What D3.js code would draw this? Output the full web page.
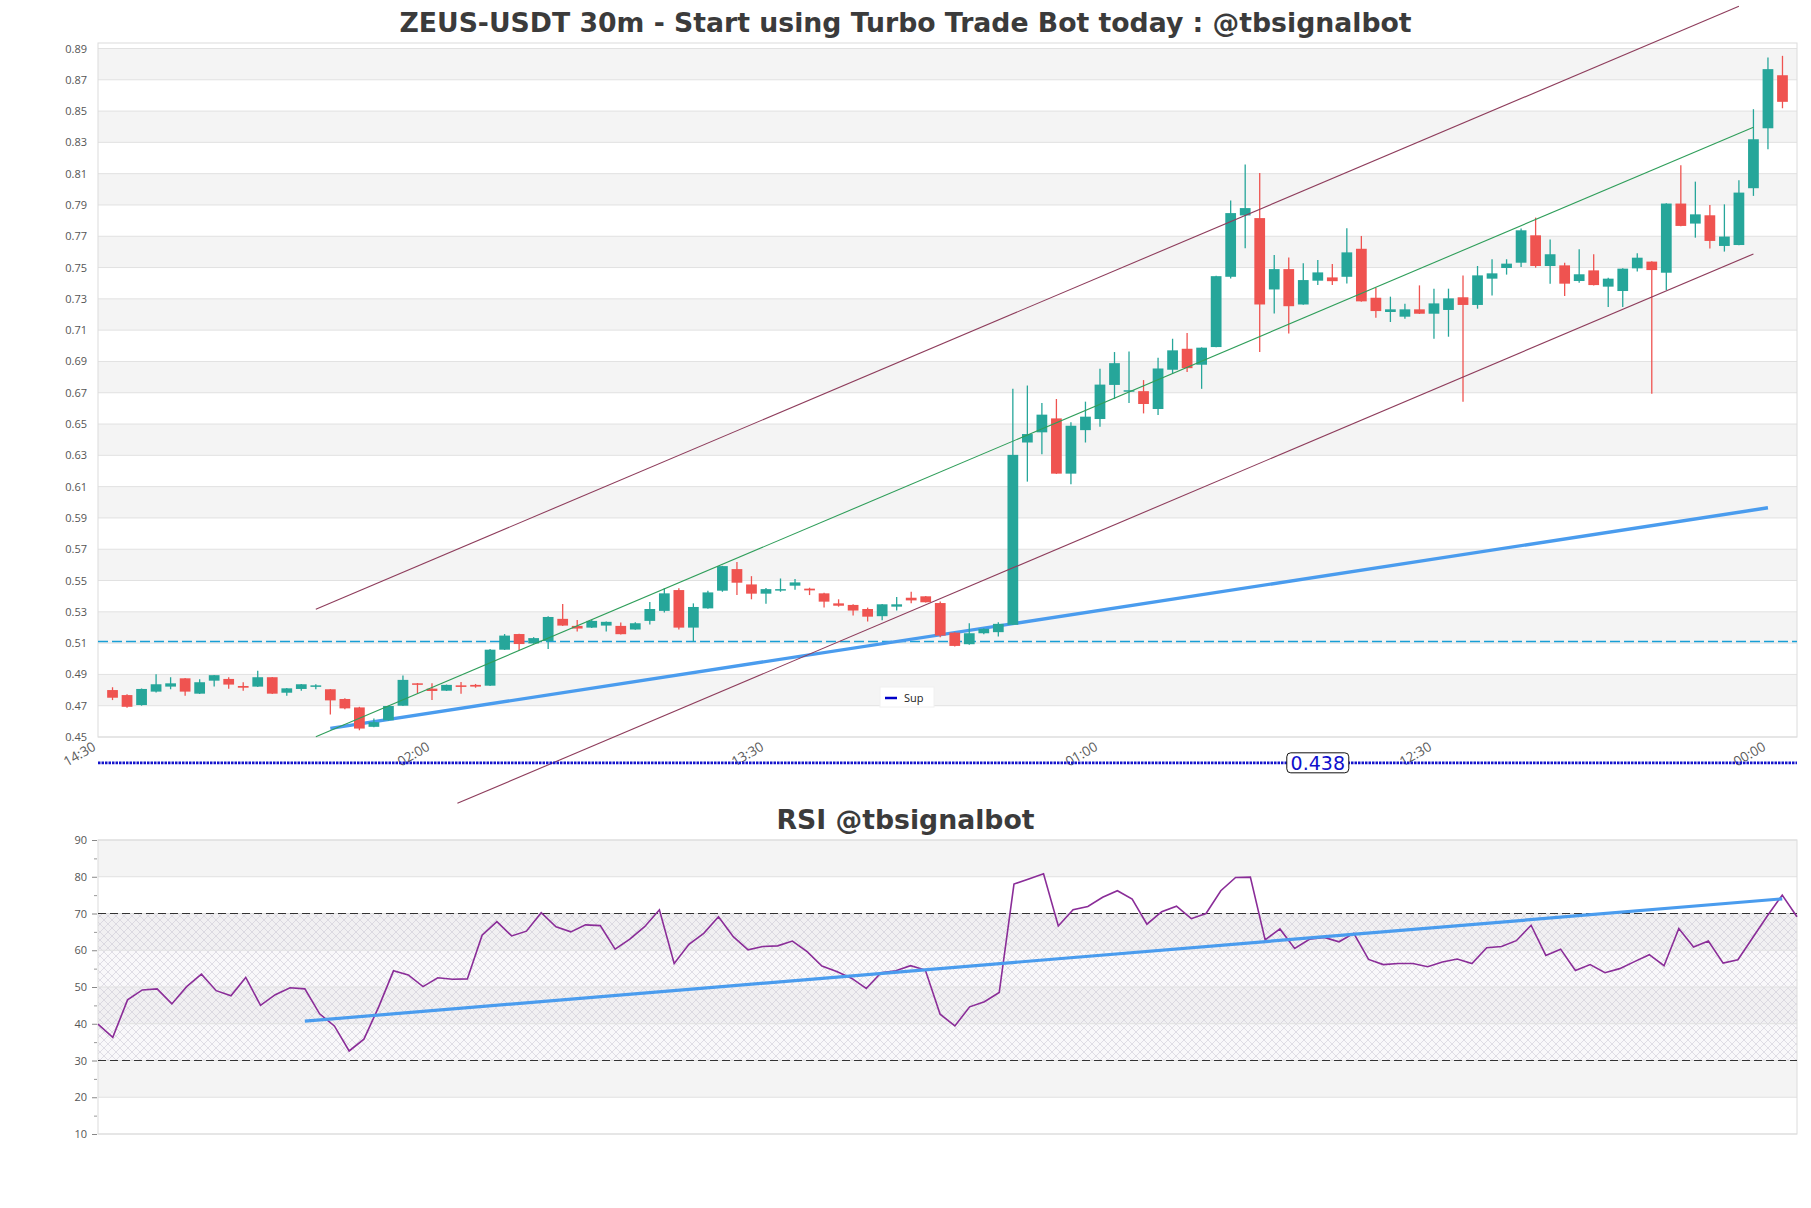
<!DOCTYPE html>
<html>
<head>
<meta charset="utf-8">
<script src="https://cdn.jsdelivr.net/npm/d3@7"></script>
<style>
  body { margin: 0; background: #fff; }
</style>
</head>
<body>
<svg id="chart" width="1811" height="1208" font-family="'Open Sans', sans-serif"></svg>
<script>
// ---- data ----
// one candle per 30 minutes, bar 1 = 15:00 ... bar 116 = 00:30
const opens = [0.4800,0.4768,0.4704,0.4790,0.4822,0.4875,0.4777,0.4860,0.4871,0.4826,0.4822,0.4882,0.4783,0.4807,0.4827,0.4805,0.4743,0.4689,0.4565,0.4607,
  0.4700,0.4843,0.4809,0.4796,0.4830,0.4833,0.4828,0.5058,0.5158,0.5098,0.5113,0.5255,0.5210,0.5199,0.5212,0.5210,0.5187,0.5242,0.5306,0.5439,
  0.5199,0.5322,0.5435,0.5573,0.5475,0.5416,0.5441,0.5467,0.5448,0.5418,0.5354,0.5344,0.5318,0.5272,0.5333,0.5390,0.5399,0.5356,0.5167,0.5093,
  0.5163,0.5170,0.5217,0.6382,0.6447,0.6536,0.6183,0.6461,0.6532,0.6750,0.6709,0.6710,0.6596,0.6847,0.6981,0.6879,0.6992,0.7441,0.7833,0.7816,
  0.7360,0.7490,0.7264,0.7416,0.7437,0.7441,0.7620,0.7307,0.7216,0.7186,0.7233,0.7205,0.7229,0.7310,0.7261,0.7429,0.7497,0.7531,0.7706,0.7510,
  0.7514,0.7414,0.7482,0.7378,0.7350,0.7495,0.7538,0.7467,0.7909,0.7781,0.7834,0.7638,0.7644,0.8007,0.8390,0.8729];
const highs = [0.4818,0.4773,0.4810,0.4901,0.4882,0.4877,0.4869,0.4897,0.4882,0.4850,0.4923,0.4884,0.4813,0.4839,0.4837,0.4807,0.4747,0.4693,0.4618,0.4700,
  0.4893,0.4845,0.4843,0.4835,0.4852,0.4839,0.5062,0.5158,0.5160,0.5138,0.5272,0.5350,0.5248,0.5250,0.5238,0.5231,0.5233,0.5363,0.5450,0.5450,
  0.5354,0.5435,0.5594,0.5619,0.5528,0.5452,0.5513,0.5509,0.5454,0.5422,0.5380,0.5348,0.5327,0.5350,0.5395,0.5428,0.5401,0.5366,0.5169,0.5227,
  0.5195,0.5234,0.6725,0.6746,0.6635,0.6660,0.6511,0.6643,0.6853,0.6960,0.6964,0.6781,0.6924,0.7045,0.7082,0.6990,0.7447,0.7929,0.8158,0.8104,
  0.7580,0.7565,0.7527,0.7548,0.7522,0.7751,0.7702,0.7371,0.7314,0.7269,0.7386,0.7365,0.7365,0.7450,0.7510,0.7553,0.7553,0.7749,0.7819,0.7680,
  0.7531,0.7617,0.7585,0.7435,0.7495,0.7591,0.7540,0.7911,0.8154,0.8049,0.7900,0.7904,0.8058,0.8512,0.8842,0.8853];
const lows = [0.4736,0.4687,0.4700,0.4785,0.4805,0.4764,0.4775,0.4822,0.4809,0.4796,0.4820,0.4775,0.4764,0.4796,0.4805,0.4644,0.4678,0.4543,0.4563,0.4605,
  0.4698,0.4779,0.4736,0.4794,0.4777,0.4815,0.4826,0.5056,0.5053,0.5096,0.5062,0.5210,0.5174,0.5197,0.5174,0.5155,0.5185,0.5219,0.5295,0.5187,
  0.5110,0.5320,0.5428,0.5407,0.5380,0.5352,0.5428,0.5441,0.5407,0.5327,0.5333,0.5276,0.5238,0.5246,0.5308,0.5354,0.5359,0.5138,0.5078,0.5090,
  0.5157,0.5142,0.5215,0.6132,0.6307,0.6181,0.6115,0.6382,0.6483,0.6660,0.6635,0.6568,0.6558,0.6821,0.6832,0.6725,0.6990,0.7430,0.7623,0.6960,
  0.7206,0.7078,0.7262,0.7388,0.7388,0.7398,0.7282,0.7180,0.7152,0.7173,0.7203,0.7045,0.7058,0.6642,0.7237,0.7322,0.7455,0.7504,0.7499,0.7397,
  0.7318,0.7403,0.7386,0.7248,0.7248,0.7474,0.6693,0.7356,0.7764,0.7691,0.7621,0.7602,0.7642,0.7958,0.8256,0.8518];
const closes = [0.4751,0.4693,0.4807,0.4837,0.4843,0.4790,0.4850,0.4895,0.4835,0.4815,0.4882,0.4777,0.4811,0.4837,0.4830,0.4734,0.4683,0.4554,0.4595,0.4698,
  0.4865,0.4837,0.4794,0.4833,0.4820,0.4822,0.5058,0.5148,0.5094,0.5132,0.5267,0.5212,0.5193,0.5242,0.5236,0.5157,0.5227,0.5318,0.5418,0.5199,
  0.5331,0.5424,0.5592,0.5486,0.5416,0.5445,0.5445,0.5488,0.5437,0.5365,0.5339,0.5308,0.5269,0.5348,0.5348,0.5373,0.5361,0.5148,0.5082,0.5163,
  0.5191,0.5223,0.6303,0.6436,0.6560,0.6183,0.6489,0.6547,0.6752,0.6889,0.6716,0.6628,0.6855,0.6971,0.6857,0.6988,0.7445,0.7848,0.7880,0.7264,
  0.7490,0.7253,0.7420,0.7469,0.7413,0.7597,0.7284,0.7222,0.7233,0.7233,0.7205,0.7271,0.7303,0.7261,0.7450,0.7463,0.7525,0.7738,0.7510,0.7585,
  0.7397,0.7457,0.7388,0.7429,0.7493,0.7563,0.7484,0.7909,0.7766,0.7840,0.7670,0.7698,0.7979,0.8320,0.8768,0.8559];

const rsi = [39.9,36.3,46.5,49.2,49.5,45.4,50.1,53.5,49.0,47.6,52.6,45.0,47.9,49.8,49.5,42.7,39.4,32.6,35.8,44.6,
  54.4,53.3,50.1,52.5,52.1,52.2,64.1,67.8,63.9,65.2,70.2,66.4,65.0,66.9,66.7,60.3,63.0,66.4,71.0,56.4,
  61.6,64.6,69.1,63.7,60.1,61.0,61.2,62.5,59.6,55.7,54.2,52.4,49.6,53.9,54.4,55.8,54.6,42.6,39.4,44.6,
  46.0,48.5,78.0,79.4,80.8,66.6,71.0,71.9,74.4,76.2,73.9,67.1,70.5,72.0,68.6,70.0,76.2,79.8,79.9,62.8,
  65.8,60.5,63.0,63.5,62.3,64.6,57.5,56.1,56.4,56.4,55.5,56.8,57.6,56.4,60.7,61.0,62.6,66.8,58.6,60.3,
  54.5,56.1,53.9,55.0,56.9,58.8,55.8,65.9,60.9,62.5,56.5,57.4,63.4,69.4,75.0,69.1];

const priceTicks = [0.45,0.47,0.49,0.51,0.53,0.55,0.57,0.59,0.61,0.63,0.65,0.67,0.69,0.71,0.73,0.75,0.77,0.79,0.81,0.83,0.85,0.87,0.89];
const rsiTicks = [10,20,30,40,50,60,70,80,90];
const rsiMinorTicks = [15,25,35,45,55,65,75,85];
const timeLabels = ["14:30","02:00","13:30","01:00","12:30","00:00"];
const timeTickBars = [0,23,46,69,92,115];

// lines drawn on the price chart, as [bar, price]
const channelUpper = [[15, 0.5317], [113, 0.917]];
const channelMiddle = [[15, 0.4502], [114, 0.8397]];
const channelLower = [[24.75, 0.4076], [114, 0.7587]];
const supTrend = [[16, 0.4555], [115, 0.5965]];
const levelLine = 0.511;
const supLevel = 0.4335;
const supLabel = "0.438";
const supLabelBar = 84;
// line on the RSI chart, as [index, rsi]
const rsiTrend = [[14, 40.7], [114, 74.0]];

// ---- layout ----
const svg = d3.select("#chart");
const left = 98, right = 1797;
const priceTop = 43, priceBottom = 737;
const rsiTop = 840, rsiBottom = 1134;

const up = "#26a69a", down = "#ef5350";
const bandFill = "#f4f4f4", gridColor = "#e1e1e1";
const titleFont = "'DejaVu Sans', Verdana, sans-serif";
const tickFont = "'Open Sans', sans-serif";

const x = d3.scaleLinear().domain([0, 117]).range([left, right]);
const y = d3.scaleLinear().domain([0.45, 0.8935]).range([priceBottom, priceTop]);
const xr = d3.scaleLinear().domain([0, 115]).range([left, right]);
const yr = d3.scaleLinear().domain([10, 90]).range([rsiBottom, rsiTop]);

const candles = opens.map((o, i) => ({
  bar: i + 1, open: o, high: highs[i], low: lows[i], close: closes[i]
}));

// ---- titles ----
svg.append("text")
  .attr("x", 905.5).attr("y", 32)
  .attr("text-anchor", "middle")
  .style("font-family", titleFont)
  .attr("font-size", 26.7).attr("font-weight", 700)
  .attr("fill", "#3b3b3b")
  .text("ZEUS-USDT 30m - Start using Turbo Trade Bot today : @tbsignalbot");

svg.append("text")
  .attr("x", 905.5).attr("y", 829)
  .attr("text-anchor", "middle")
  .style("font-family", titleFont)
  .attr("font-size", 26.7).attr("font-weight", 700)
  .attr("fill", "#3b3b3b")
  .text("RSI @tbsignalbot");

// ---- price chart background ----
const priceBands = priceTicks.slice(0, -1).map((t, k) => [t, priceTicks[k + 1]]).filter((d, k) => k % 2 === 1);

svg.selectAll(".price-band")
  .data(priceBands)
  .enter()
  .append("rect")
  .attr("class", "price-band")
  .attr("x", left)
  .attr("width", right - left)
  .attr("y", d => y(d[1]))
  .attr("height", d => y(d[0]) - y(d[1]))
  .attr("fill", bandFill);

svg.selectAll(".price-grid")
  .data(priceTicks)
  .enter()
  .append("line")
  .attr("class", "price-grid")
  .attr("x1", left).attr("x2", right)
  .attr("y1", d => y(d)).attr("y2", d => y(d))
  .attr("stroke", gridColor)
  .attr("stroke-width", 1);

svg.append("rect")
  .attr("x", left).attr("y", priceTop)
  .attr("width", right - left).attr("height", priceBottom - priceTop)
  .attr("fill", "none")
  .attr("stroke", "#dcdcdc");

// y axis
const yAxis = svg.append("g")
  .attr("transform", `translate(${left},0)`)
  .call(d3.axisLeft(y).tickValues(priceTicks).tickFormat(d3.format(".2f")).tickSize(0).tickPadding(11));
yAxis.select(".domain").remove();
yAxis.selectAll("text")
  .style("font-family", tickFont)
  .attr("font-size", 11)
  .attr("fill", "#555");

// x axis with rotated labels
const xAxis = svg.append("g")
  .attr("transform", `translate(0,${priceBottom})`)
  .call(d3.axisBottom(x).tickValues(timeTickBars).tickFormat((d, i) => timeLabels[i]).tickSize(0));
xAxis.select(".domain").remove();
xAxis.selectAll("text")
  .style("font-family", tickFont)
  .attr("font-size", 13.5)
  .attr("fill", "#5a5a5a")
  .attr("y", 0).attr("dy", "0.35em").attr("dx", "-0.35em")
  .attr("text-anchor", "end")
  .attr("transform", "translate(0,6) rotate(-30)");

// dashed level
svg.append("line")
  .attr("x1", left).attr("x2", right)
  .attr("y1", y(levelLine)).attr("y2", y(levelLine))
  .attr("stroke", "#189fd6")
  .attr("stroke-width", 1.4)
  .attr("stroke-dasharray", "10,4");

// support trend (thick blue)
const priceLine = d3.line().x(d => x(d[0])).y(d => y(d[1]));

svg.append("path")
  .attr("d", priceLine(supTrend))
  .attr("fill", "none")
  .attr("stroke", "#4a9cee")
  .attr("stroke-width", 3.4)
  .attr("stroke-linecap", "butt");

// candles
const bodyWidth = (x(1) - x(0)) * 0.74;

svg.selectAll(".wick")
  .data(candles)
  .enter()
  .append("line")
  .attr("class", "wick")
  .attr("x1", d => x(d.bar)).attr("x2", d => x(d.bar))
  .attr("y1", d => y(d.high)).attr("y2", d => y(d.low))
  .attr("stroke", d => d.close >= d.open ? up : down)
  .attr("stroke-width", 1.3);

svg.selectAll(".body")
  .data(candles)
  .enter()
  .append("rect")
  .attr("class", "body")
  .attr("x", d => x(d.bar) - bodyWidth / 2)
  .attr("width", bodyWidth)
  .attr("y", d => y(Math.max(d.open, d.close)))
  .attr("height", d => Math.max(1.5, Math.abs(y(d.open) - y(d.close))))
  .attr("fill", d => d.close >= d.open ? up : down);

// channel lines
svg.selectAll(".channel")
  .data([
    { pts: channelUpper, color: "#8e3d5c" },
    { pts: channelMiddle, color: "#2f9e5a" },
    { pts: channelLower, color: "#8e3d5c" }
  ])
  .enter()
  .append("path")
  .attr("class", "channel")
  .attr("d", d => priceLine(d.pts))
  .attr("fill", "none")
  .attr("stroke", d => d.color)
  .attr("stroke-width", 1.1);

// legend
const legend = svg.append("g").attr("transform", "translate(880,687)");
legend.append("rect")
  .attr("width", 54).attr("height", 20)
  .attr("fill", "#fff")
  .attr("stroke", "#f0f0f0");
legend.append("line")
  .attr("x1", 5).attr("x2", 17).attr("y1", 11).attr("y2", 11)
  .attr("stroke", "#0000c8").attr("stroke-width", 2.5);
legend.append("text")
  .attr("x", 24).attr("y", 14.5)
  .style("font-family", tickFont)
  .attr("font-size", 11)
  .attr("fill", "#222")
  .text("Sup");

// dotted support level below the axis
svg.append("line")
  .attr("x1", left).attr("x2", right)
  .attr("y1", y(supLevel)).attr("y2", y(supLevel))
  .attr("stroke", "#1414cc")
  .attr("stroke-width", 2.8)
  .attr("stroke-dasharray", "2.5,1");

const supBox = svg.append("g")
  .attr("transform", `translate(${x(supLabelBar)},${y(supLevel)})`);
supBox.append("rect")
  .attr("x", -31).attr("y", -10)
  .attr("width", 62).attr("height", 20)
  .attr("rx", 4)
  .attr("fill", "#fff")
  .attr("stroke", "#111")
  .attr("stroke-width", 1);
supBox.append("text")
  .attr("x", 0).attr("y", 7.5)
  .attr("text-anchor", "middle")
  .style("font-family", titleFont)
  .attr("font-size", 19)
  .attr("fill", "#1010cc")
  .text(supLabel);

// ---- RSI chart ----
const defs = svg.append("defs");
const hatch = defs.append("pattern")
  .attr("id", "hatch")
  .attr("patternUnits", "userSpaceOnUse")
  .attr("width", 8).attr("height", 8);
hatch.append("path")
  .attr("d", "M0,0 L8,8 M8,0 L0,8")
  .attr("stroke", "#c6c3d0")
  .attr("stroke-width", 0.6)
  .attr("fill", "none");

const rsiBands = rsiTicks.slice(0, -1).map((t, k) => [t, rsiTicks[k + 1]]).filter((d, k) => k % 2 === 1);

svg.selectAll(".rsi-band")
  .data(rsiBands)
  .enter()
  .append("rect")
  .attr("class", "rsi-band")
  .attr("x", left)
  .attr("width", right - left)
  .attr("y", d => yr(d[1]))
  .attr("height", d => yr(d[0]) - yr(d[1]))
  .attr("fill", bandFill);

// zone between 30 and 70
svg.append("rect")
  .attr("x", left).attr("width", right - left)
  .attr("y", yr(70)).attr("height", yr(30) - yr(70))
  .attr("fill", "#ebe9f0")
  .attr("opacity", 0.3);
svg.append("rect")
  .attr("x", left).attr("width", right - left)
  .attr("y", yr(70)).attr("height", yr(30) - yr(70))
  .attr("fill", "url(#hatch)")
  .attr("opacity", 0.85);

svg.selectAll(".rsi-grid")
  .data(rsiTicks)
  .enter()
  .append("line")
  .attr("class", "rsi-grid")
  .attr("x1", left).attr("x2", right)
  .attr("y1", d => yr(d)).attr("y2", d => yr(d))
  .attr("stroke", gridColor)
  .attr("stroke-width", 1);

svg.append("rect")
  .attr("x", left).attr("y", rsiTop)
  .attr("width", right - left).attr("height", rsiBottom - rsiTop)
  .attr("fill", "none")
  .attr("stroke", "#dcdcdc");

const rAxis = svg.append("g")
  .attr("transform", `translate(${left - 1},0)`)
  .call(d3.axisLeft(yr).tickValues(rsiTicks).tickSize(5).tickPadding(5));
rAxis.select(".domain").remove();
rAxis.selectAll("line").attr("stroke", "#888");
rAxis.selectAll("text")
  .style("font-family", tickFont)
  .attr("font-size", 11)
  .attr("fill", "#555");

const rMinor = svg.append("g")
  .attr("transform", `translate(${left - 1},0)`)
  .call(d3.axisLeft(yr).tickValues(rsiMinorTicks).tickSize(3).tickFormat(""));
rMinor.select(".domain").remove();
rMinor.selectAll("line").attr("stroke", "#999");

svg.selectAll(".rsi-level")
  .data([70, 30])
  .enter()
  .append("line")
  .attr("class", "rsi-level")
  .attr("x1", left).attr("x2", right)
  .attr("y1", d => yr(d)).attr("y2", d => yr(d))
  .attr("stroke", "#333")
  .attr("stroke-width", 1.2)
  .attr("stroke-dasharray", "8,4");

svg.append("path")
  .datum(rsi)
  .attr("d", d3.line().x((d, i) => xr(i)).y(d => yr(d)))
  .attr("fill", "none")
  .attr("stroke", "#8a2d98")
  .attr("stroke-width", 1.6);

svg.append("path")
  .attr("d", d3.line().x(d => xr(d[0])).y(d => yr(d[1]))(rsiTrend))
  .attr("fill", "none")
  .attr("stroke", "#4a9cee")
  .attr("stroke-width", 3.2);
</script>
</body>
</html>
